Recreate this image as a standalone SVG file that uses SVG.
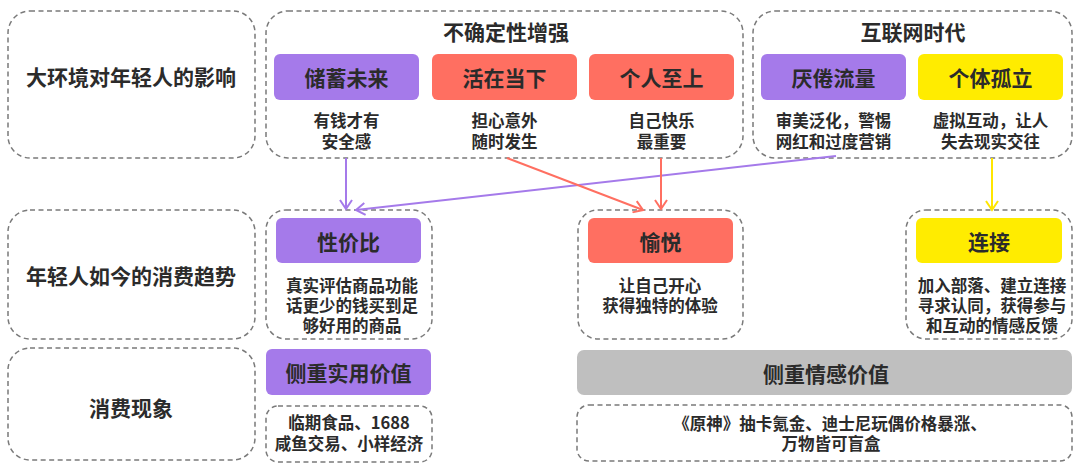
<svg xmlns="http://www.w3.org/2000/svg" width="1080" height="467" viewBox="0 0 1080 467">
<style>
.dash{fill:#fff;stroke:#7a7a7a;stroke-width:1.5;stroke-dasharray:5 3.5}
.pur{fill:#a57aea}
.red{fill:#ff6f61}
.yel{fill:#ffec00}
.gry{fill:#bfbfbf}
text{font-family:"Noto Sans CJK SC","Noto Sans",sans-serif;font-weight:bold;fill:#2b2b2b;text-anchor:middle;dominant-baseline:central}
.t{font-size:21px}
.d{font-size:16.5px}
.cp{stroke:#a57aea;stroke-width:2;fill:none}
.cr{stroke:#ff6f61;stroke-width:2;fill:none}
.cy{stroke:#ffe600;stroke-width:2;fill:none}
</style>
<defs>
<marker id="ap" markerUnits="userSpaceOnUse" markerWidth="14" markerHeight="14" refX="11" refY="7" orient="auto"><path d="M2,1 L11,7 L2,13" fill="none" stroke="#a57aea" stroke-width="2"/></marker>
<marker id="ar" markerUnits="userSpaceOnUse" markerWidth="14" markerHeight="14" refX="11" refY="7" orient="auto"><path d="M2,1 L11,7 L2,13" fill="none" stroke="#ff6f61" stroke-width="2"/></marker>
<marker id="ay" markerUnits="userSpaceOnUse" markerWidth="14" markerHeight="14" refX="11" refY="7" orient="auto"><path d="M2,1 L11,7 L2,13" fill="none" stroke="#ffe600" stroke-width="2"/></marker>
</defs>

<g id="row1-label">
<rect class="dash" x="8" y="11" width="247" height="147" rx="22"/>
<text class="t" x="131" y="76">大环境对年轻人的影响</text>
</g>

<g id="uncertainty">
<rect class="dash" x="266" y="11" width="477" height="147" rx="22"/>
<text class="t" x="506" y="31">不确定性增强</text>
</g>
<g id="save-future">
<rect class="pur" x="274" y="54" width="145" height="46" rx="6"/>
<text class="t" x="346.5" y="77">储蓄未来</text>
<text class="d" x="346.5" y="120">有钱才有</text>
<text class="d" x="346.5" y="141">安全感</text>
</g>
<g id="live-now">
<rect class="red" x="432" y="54" width="145" height="46" rx="6"/>
<text class="t" x="504.5" y="77">活在当下</text>
<text class="d" x="504.5" y="120">担心意外</text>
<text class="d" x="504.5" y="141">随时发生</text>
</g>
<g id="self-first">
<rect class="red" x="589" y="54" width="145" height="46" rx="6"/>
<text class="t" x="661.5" y="77">个人至上</text>
<text class="d" x="661.5" y="120">自己快乐</text>
<text class="d" x="661.5" y="141">最重要</text>
</g>

<g id="internet">
<rect class="dash" x="753" y="11" width="319" height="147" rx="22"/>
<text class="t" x="913" y="31">互联网时代</text>
</g>
<g id="tired-traffic">
<rect class="pur" x="761" y="54" width="145" height="46" rx="6"/>
<text class="t" x="833.5" y="77">厌倦流量</text>
<text class="d" x="833.5" y="120">审美泛化，警惕</text>
<text class="d" x="833.5" y="141">网红和过度营销</text>
</g>
<g id="isolation">
<rect class="yel" x="918" y="54" width="145" height="46" rx="6"/>
<text class="t" x="990.5" y="77">个体孤立</text>
<text class="d" x="990.5" y="120">虚拟互动，让人</text>
<text class="d" x="990.5" y="141">失去现实交往</text>
</g>

<g id="row2-label">
<rect class="dash" x="8" y="210" width="247" height="129" rx="22"/>
<text class="t" x="131" y="275">年轻人如今的消费趋势</text>
</g>
<g id="value">
<rect class="dash" x="266" y="210" width="166" height="129" rx="20"/>
<rect class="pur" x="276" y="218" width="145" height="45" rx="6"/>
<text class="t" x="348.5" y="241">性价比</text>
<text class="d" x="352" y="285">真实评估商品功能</text>
<text class="d" x="352" y="305">话更少的钱买到足</text>
<text class="d" x="352" y="325">够好用的商品</text>
</g>
<g id="joy">
<rect class="dash" x="578" y="210" width="165" height="129" rx="20"/>
<rect class="red" x="588" y="218" width="145" height="45" rx="6"/>
<text class="t" x="660.5" y="241">愉悦</text>
<text class="d" x="660" y="285">让自己开心</text>
<text class="d" x="660" y="305">获得独特的体验</text>
</g>
<g id="connect">
<rect class="dash" x="906" y="210" width="166" height="129" rx="20"/>
<rect class="yel" x="916" y="218" width="146" height="45" rx="6"/>
<text class="t" x="989" y="241">连接</text>
<text class="d" x="992" y="285">加入部落、建立连接</text>
<text class="d" x="992" y="305">寻求认同，获得参与</text>
<text class="d" x="992" y="325">和互动的情感反馈</text>
</g>

<g id="row3-label">
<rect class="dash" x="8" y="348" width="247" height="112" rx="22"/>
<text class="t" x="131" y="407">消费现象</text>
</g>
<g id="practical">
<rect class="pur" x="266" y="349" width="165" height="46" rx="6"/>
<text class="t" x="348.5" y="372">侧重实用价值</text>
</g>
<g id="practical-examples">
<rect class="dash" x="266" y="406" width="166" height="56" rx="12"/>
<text class="d" x="349" y="422">临期食品、1688</text>
<text class="d" x="349" y="443">咸鱼交易、小样经济</text>
</g>
<g id="emotional">
<rect class="gry" x="577" y="350" width="495" height="45" rx="7"/>
<text class="t" x="826" y="373">侧重情感价值</text>
</g>
<g id="emotional-examples">
<rect class="dash" x="577" y="405" width="495" height="56" rx="12"/>
<text class="d" x="830" y="423">《原神》抽卡氪金、迪士尼玩偶价格暴涨、</text>
<text class="d" x="831" y="443">万物皆可盲盒</text>
</g>

<g id="connectors">
<line class="cp" x1="346" y1="158" x2="346" y2="209" marker-end="url(#ap)"/>
<line class="cp" x1="836" y1="156" x2="356" y2="210" marker-end="url(#ap)"/>
<line class="cr" x1="507" y1="158" x2="643" y2="210" marker-end="url(#ar)"/>
<line class="cr" x1="661" y1="158" x2="661" y2="209" marker-end="url(#ar)"/>
<line class="cy" x1="992" y1="158" x2="992" y2="210" marker-end="url(#ay)"/>
</g>
</svg>
